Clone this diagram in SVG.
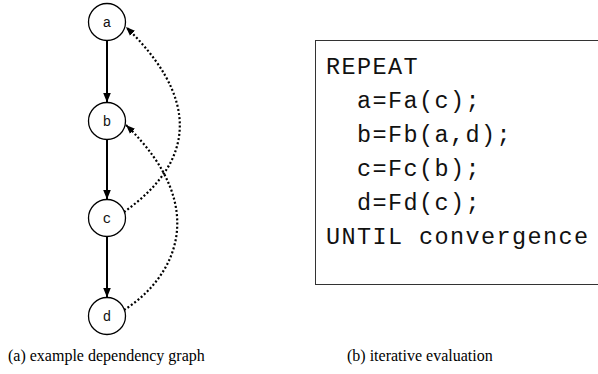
<svg xmlns="http://www.w3.org/2000/svg" width="598" height="374" viewBox="0 0 598 374">
  <style>
    .node circle { fill: #fff; stroke: #000; stroke-width: 1.3; }
    .node text { font-family: "Liberation Mono", "Courier New", monospace; font-size: 14px; text-anchor: middle; fill: #111; }
    .solid { stroke: #000; stroke-width: 2; fill: none; }
    .dotted { stroke: #000; stroke-width: 2.2; stroke-dasharray: 2 2.2; fill: none; }
    .code { font-family: "Liberation Mono", "Courier New", monospace; font-size: 23.5px; letter-spacing: 1.4px; fill: #111; white-space: pre; }
    .caption { font-family: "Liberation Serif", "Times New Roman", serif; font-size: 16px; fill: #000; }
  </style>
  <defs>
    <marker id="arrow" markerUnits="userSpaceOnUse" markerWidth="10" markerHeight="10" viewBox="0 0 10 8" refX="10" refY="4" orient="auto">
      <path d="M0,0 L10,4 L0,8 z" fill="#000"/>
    </marker>
    <marker id="arrow-small" markerUnits="userSpaceOnUse" markerWidth="9" markerHeight="9" viewBox="0 0 10 8" refX="10" refY="4" orient="auto">
      <path d="M0,0 L10,4 L0,8 z" fill="#000"/>
    </marker>
  </defs>

  <!-- dependency edges -->
  <g id="edges">
    <line class="solid" x1="107" y1="40.5" x2="107" y2="102.5" marker-end="url(#arrow)"/>
    <line class="solid" x1="107" y1="140" x2="107" y2="199.5" marker-end="url(#arrow)"/>
    <line class="solid" x1="107" y1="236.5" x2="107" y2="297.5" marker-end="url(#arrow)"/>
    <!-- back edge c -> a -->
    <path class="dotted" d="M124,212 C172,178 220,118 126,27" marker-end="url(#arrow-small)"/>
    <!-- back edge d -> b -->
    <path class="dotted" d="M124,310 C172,280 214,210 126,125" marker-end="url(#arrow-small)"/>
  </g>

  <g id="node-a" class="node">
    <circle cx="107" cy="22" r="18.5"/>
    <text x="107" y="26.5">a</text>
  </g>
  <g id="node-b" class="node">
    <circle cx="107" cy="121" r="18.5"/>
    <text x="107" y="125.5">b</text>
  </g>
  <g id="node-c" class="node">
    <circle cx="107" cy="218" r="18.5"/>
    <text x="107" y="222.5">c</text>
  </g>
  <g id="node-d" class="node">
    <circle cx="107" cy="316" r="18.5"/>
    <text x="107" y="320.5">d</text>
  </g>

  <!-- evaluation loop -->
  <g id="code-box">
    <rect x="315.5" y="40.5" width="290" height="244" fill="none" stroke="#333" stroke-width="1"/>
    <text class="code" x="326" y="74">REPEAT</text>
    <text class="code" x="326" y="108">  a=Fa(c);</text>
    <text class="code" x="326" y="142">  b=Fb(a,d);</text>
    <text class="code" x="326" y="176">  c=Fc(b);</text>
    <text class="code" x="326" y="210">  d=Fd(c);</text>
    <text class="code" x="326" y="244">UNTIL convergence</text>
  </g>

  <text class="caption" x="8" y="361">(a) example dependency graph</text>
  <text class="caption" x="347" y="361">(b) iterative evaluation</text>
</svg>
